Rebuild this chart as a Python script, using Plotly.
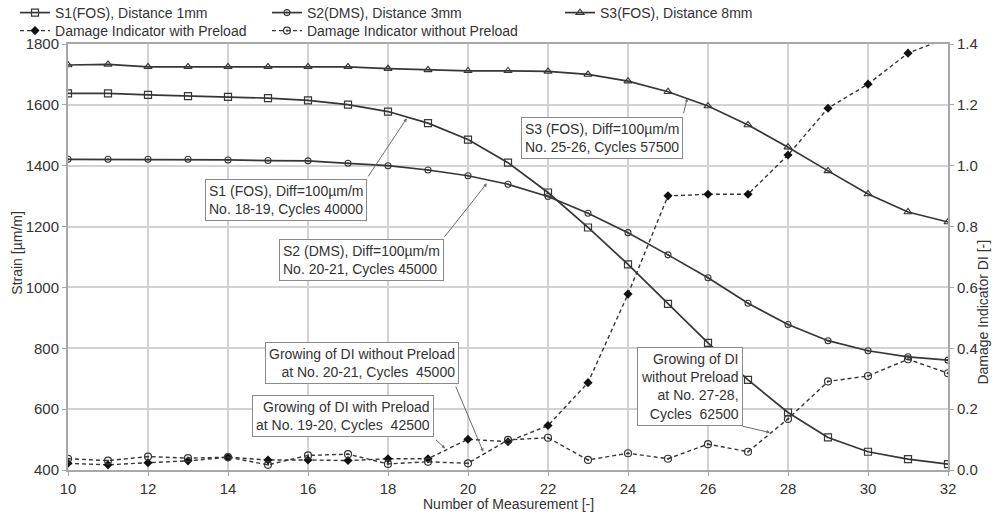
import plotly.graph_objects as go

# ---------------- data ----------------
measurement = [10, 11, 12, 13, 14, 15, 16, 17, 18, 19, 20, 21, 22, 23, 24, 25, 26, 27, 28, 29, 30, 31, 32]
s1_fos = [1638, 1638, 1633, 1629, 1626, 1622, 1615, 1601, 1578, 1540, 1486, 1410, 1312, 1197, 1076, 946,
          818, 696, 589, 507, 460, 436, 419]
s2_dms = [1421, 1421, 1421, 1421, 1419, 1417, 1416, 1408, 1400, 1386, 1367, 1339, 1299, 1244, 1180, 1107,
          1032, 948, 878, 825, 792, 772, 761]
s3_fos = [1731, 1733, 1725, 1725, 1725, 1725, 1725, 1725, 1719, 1715, 1712, 1712, 1710, 1700, 1678, 1643,
          1596, 1534, 1461, 1383, 1307, 1248, 1215]
di_with_preload = [0.022, 0.017, 0.024, 0.030, 0.042, 0.033, 0.033, 0.031, 0.037, 0.037, 0.101, 0.093,
                   0.146, 0.287, 0.578, 0.901, 0.906, 0.906, 1.035, 1.189, 1.268, 1.370, 1.42]
di_without_preload = [0.037, 0.031, 0.044, 0.039, 0.042, 0.017, 0.048, 0.052, 0.020, 0.027, 0.022, 0.099,
                      0.106, 0.033, 0.055, 0.037, 0.085, 0.060, 0.168, 0.291, 0.309, 0.364, 0.318]

x_ticks = [10, 12, 14, 16, 18, 20, 22, 24, 26, 28, 30, 32]

FONT = "Liberation Sans, Arial, sans-serif"
LINE = "#363636"
TXT = "#333333"
GRID = "#d2d2d2"
FRAME = "#a8a8a8"

fig = go.Figure()

fig.add_trace(go.Scatter(x=measurement, y=s1_fos, name="S1(FOS), Distance 1mm", mode="lines+markers",
                         line=dict(color=LINE, width=1.7),
                         marker=dict(symbol="square-open", size=7, color=LINE, line=dict(width=1.2)),
                         legend="legend"))
fig.add_trace(go.Scatter(x=measurement, y=s2_dms, name="S2(DMS), Distance 3mm", mode="lines+markers",
                         line=dict(color=LINE, width=1.7),
                         marker=dict(symbol="circle-open-dot", size=6, color=LINE, line=dict(width=1.1)),
                         legend="legend2"))
fig.add_trace(go.Scatter(x=measurement, y=s3_fos, name="S3(FOS), Distance 8mm", mode="lines+markers",
                         line=dict(color=LINE, width=1.7),
                         marker=dict(symbol="triangle-up-open", size=7, color=LINE, line=dict(width=1.1)),
                         legend="legend3"))
fig.add_trace(go.Scatter(x=measurement, y=di_with_preload, name="Damage Indicator with Preload",
                         mode="lines+markers", yaxis="y2",
                         line=dict(color=LINE, width=1.4, dash="4px,3px"),
                         marker=dict(symbol="diamond", size=7, color="#111111"),
                         legend="legend4"))
fig.add_trace(go.Scatter(x=measurement, y=di_without_preload, name="Damage Indicator without Preload",
                         mode="lines+markers", yaxis="y2",
                         line=dict(color=LINE, width=1.4, dash="4px,3px"),
                         marker=dict(symbol="circle-open-dot", size=7, color=LINE, line=dict(width=1.2)),
                         legend="legend5"))

# ---------------- annotations ----------------
box_style = dict(showarrow=False, bgcolor="white", bordercolor="#8a8a8a", borderwidth=1, borderpad=3,
                 font=dict(family=FONT, size=14, color=TXT))
boxes = [
    dict(x=15.45, y=1286, xref="x", yref="y", align="left",
         text="S1 (FOS), Diff=100µm/m<br>No. 18-19, Cycles 40000"),
    dict(x=17.34, y=1089, xref="x", yref="y", align="left",
         text="S2 (DMS), Diff=100µm/m<br>No. 20-21, Cycles 45000"),
    dict(x=23.35, y=1491, xref="x", yref="y", align="left",
         text="S3 (FOS), Diff=100µm/m<br>No. 25-26, Cycles 57500"),
    dict(x=17.35, y=751, xref="x", yref="y", align="right",
         text="Growing of DI without Preload<br>at No. 20-21, Cycles\u00a0 45000"),
    dict(x=16.88, y=576, xref="x", yref="y", align="right",
         text="Growing of DI with Preload<br>at No. 19-20, Cycles\u00a0 42500"),
    dict(x=25.55, y=674, xref="x", yref="y", align="right",
         text="Growing of DI<br>without Preload<br>at No. 27-28,<br>Cycles\u00a0 62500"),
]
arrow_style = dict(text="", showarrow=True, arrowhead=2, arrowsize=0.7, arrowwidth=1, arrowcolor="#6a6a6a",
                   standoff=0, startstandoff=0)
arrows = [
    dict(x=18.47, y=1556, ax=17.48, ay=1360, xref="x", yref="y", axref="x", ayref="y"),
    dict(x=20.47, y=1342, ax=19.38, ay=1161, xref="x", yref="y", axref="x", ayref="y"),
    dict(x=25.48, y=1622, ax=25.38, ay=1567, xref="x", yref="y", axref="x", ayref="y"),
    dict(x=20.38, y=0.060, ax=19.68, ay=0.279, xref="x", yref="y2", axref="x", ayref="y2"),
    dict(x=19.43, y=0.071, ax=19.16, ay=0.104, xref="x", yref="y2", axref="x", ayref="y2"),
    dict(x=27.55, y=0.123, ax=26.83, ay=0.145, xref="x", yref="y2", axref="x", ayref="y2"),
]
title_font = dict(family=FONT, size=14, color=TXT)
axis_titles = [
    dict(text="Number of Measurement [-]", xref="paper", yref="paper", x=0.5, y=-0.079,
         xanchor="center", yanchor="middle", showarrow=False, font=title_font),
    dict(text="Strain [µm/m]", xref="paper", yref="paper", x=-0.058, y=0.51, textangle=-90,
         xanchor="center", yanchor="middle", showarrow=False, font=title_font),
    dict(text="Damage Indicator DI [-]", xref="paper", yref="paper", x=1.04, y=0.37, textangle=-90,
         xanchor="center", yanchor="middle", showarrow=False, font=title_font),
]
annotations = [dict(**arrow_style, **a) for a in arrows] + [dict(**box_style, **b) for b in boxes] + axis_titles

legend_common = dict(orientation="v", xanchor="left", yanchor="middle", bgcolor="rgba(0,0,0,0)",
                     font=dict(family=FONT, size=14, color=TXT))
ROW1 = 1.0728
ROW2 = 1.0305

axis_common = dict(showline=True, linecolor=FRAME, linewidth=2, ticks="outside", ticklen=4,
                   tickcolor=FRAME, tickfont=dict(family=FONT, size=15, color=TXT), zeroline=False,
                   automargin=False)

fig.update_layout(
    width=995, height=514,
    margin=dict(l=68, r=47, t=44, b=44, autoexpand=False),
    paper_bgcolor="white", plot_bgcolor="white",
    font=dict(family=FONT, color=TXT),
    xaxis=dict(range=[10, 32], tickvals=x_ticks, showgrid=True, gridcolor=GRID, gridwidth=1.5,
               mirror=True, **axis_common),
    yaxis=dict(range=[400, 1800], dtick=200, showgrid=True, gridcolor=GRID, gridwidth=1.5, mirror=True,
               **axis_common),
    yaxis2=dict(range=[0, 1.4], dtick=0.2, tickformat=".1f", overlaying="y", side="right", showgrid=False,
                **axis_common),
    legend=dict(x=-0.0602, y=ROW1, **legend_common),
    legend2=dict(x=0.2261, y=ROW1, **legend_common),
    legend3=dict(x=0.5591, y=ROW1, **legend_common),
    legend4=dict(x=-0.0602, y=ROW2, **legend_common),
    legend5=dict(x=0.2261, y=ROW2, **legend_common),
    annotations=annotations,
    showlegend=True,
)

# remove the default 8px body margin so the figure fills the 995x514 window exactly
fig.write_html("out.html",
               config={"displayModeBar": False},
               post_script="document.body.style.margin='0';document.body.style.overflow='hidden';")
